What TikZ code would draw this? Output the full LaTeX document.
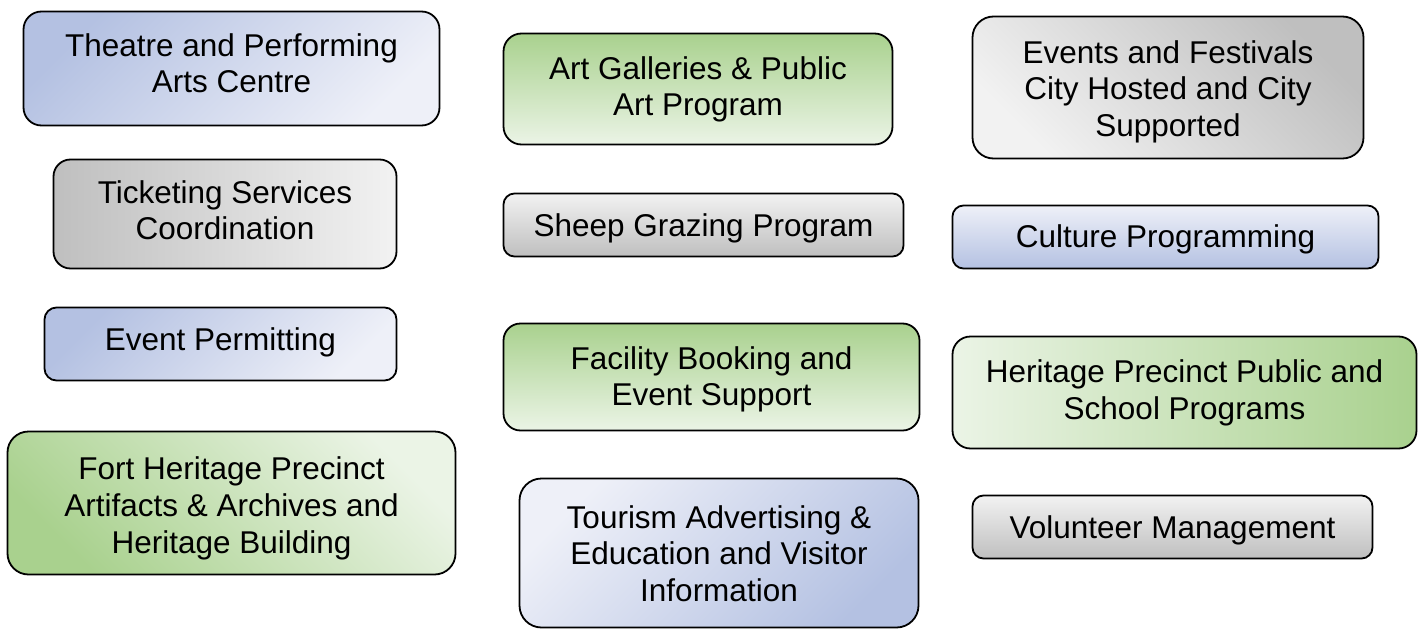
\documentclass[tikz,border=0pt]{standalone}
\usepackage{fontspec}
\setmainfont{Liberation Sans}
\definecolor{blueD}{HTML}{B4C1E2}
\definecolor{blueL}{HTML}{EEF0F8}
\definecolor{greenD}{HTML}{A9D18E}
\definecolor{greenL}{HTML}{EBF4E6}
\definecolor{grayD}{HTML}{BFBFBF}
\definecolor{grayL}{HTML}{F2F2F2}
\tikzset{
  box/.style={draw=black, line width=1.8pt, rounded corners=#1, inner sep=0pt},
  txt/.style={anchor=north, inner sep=0pt, align=center, font=\fontsize{31.5pt}{36.8pt}\selectfont},
  blueTL/.style={top color=blueD, bottom color=blueL, shading angle=45},
  blueBR/.style={top color=blueL, bottom color=blueD, shading angle=45},
  blueB/.style={top color=blueL, bottom color=blueD},
  greenT/.style={top color=greenD, bottom color=greenL},
  greenBL/.style={top color=greenL, bottom color=greenD, shading angle=-45},
  greenR/.style={left color=greenL, right color=greenD},
  grayL2R/.style={left color=grayD, right color=grayL},
  grayB/.style={top color=grayL, bottom color=grayD},
  grayTR/.style={top color=grayD, bottom color=grayL, shading angle=-45},
}
\begin{document}
\begin{tikzpicture}[x=1pt, y=-1pt]
\useasboundingbox (0,0) rectangle (1422,629);
% boxes
\node[box=18pt, blueTL, minimum width=416pt, minimum height=114pt] (b1) at (231.5,68.5) {};
\node[box=17pt, grayL2R, minimum width=343pt, minimum height=109pt] (b2) at (225,214) {};
\node[box=18pt, greenT, minimum width=389pt, minimum height=111pt] (b3) at (698,89) {};
\node[box=11pt, grayB, minimum width=400pt, minimum height=63pt] (b4) at (703.5,225) {};
\node[box=21pt, grayTR, minimum width=391pt, minimum height=142pt] (b5) at (1168,87.5) {};
\node[box=11pt, blueB, minimum width=426pt, minimum height=63pt] (b6) at (1165.5,237) {};
\node[box=12pt, blueTL, minimum width=352pt, minimum height=73pt] (b7) at (220.5,344) {};
\node[box=21pt, greenBL, minimum width=448pt, minimum height=143pt] (b8) at (231.5,503) {};
\node[box=17pt, greenT, minimum width=416pt, minimum height=107pt] (b9) at (711.5,377) {};
\node[box=22pt, blueBR, minimum width=399pt, minimum height=149pt] (b10) at (719,553) {};
\node[box=18pt, greenR, minimum width=464pt, minimum height=112pt] (b11) at (1184.5,392.5) {};
\node[box=11pt, grayB, minimum width=400pt, minimum height=63pt] (b12) at (1172.5,527) {};
% texts
\node[txt] (t1) at (231.5,33) {Theatre and Performing\\Arts Centre};
\node[txt] (t2) at (225,180) {Ticketing Services\\Coordination};
\node[txt] (t3) at (698,56) {Art Galleries \& Public\\Art Program};
\node[txt] (t4) at (703.5,213) {Sheep Grazing Program};
\node[txt] (t5) at (1168,40) {Events and Festivals\\City Hosted and City\\Supported};
\node[txt] (t6) at (1165.5,224) {Culture Programming};
\node[txt] (t7) at (220.5,327.5) {Event Permitting};
\node[txt] (t8) at (231.5,456.5) {Fort Heritage Precinct\\Artifacts \& Archives and\\Heritage Building};
\node[txt] (t9) at (711.5,346) {Facility Booking and\\Event Support};
\node[txt] (t10) at (719,505) {Tourism Advertising \&\\Education and Visitor\\Information};
\node[txt] (t11) at (1184.5,359.5) {Heritage Precinct Public and\\School Programs};
\node[txt] (t12) at (1172.5,515) {Volunteer Management};
\end{tikzpicture}
\end{document}
